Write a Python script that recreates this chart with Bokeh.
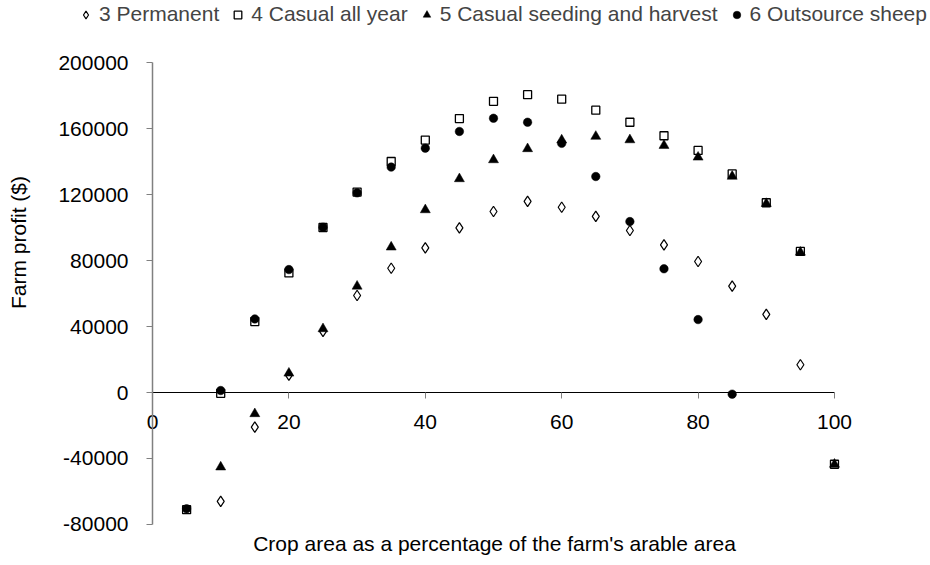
from math import pi
from bokeh.plotting import figure
from bokeh.models import (Range1d, FixedTicker, PrintfTickFormatter, Label, Legend,
                          LegendItem)
from bokeh.embed import file_html
from bokeh.resources import INLINE

# ---- data ----
x_perm = [10, 15, 20, 25, 30, 35, 40, 45, 50, 55, 60, 65, 70, 75, 80, 85, 90, 95]
y_perm = [-66000, -21000, 10500, 37000, 58800, 75300, 87700, 99800, 109700, 115800,
          112300, 106700, 98200, 89500, 79400, 64500, 47300, 16800]

x_casual = [5, 10, 15, 20, 25, 30, 35, 40, 45, 50, 55, 60, 65, 70, 75, 80, 85, 90, 95, 100]
y_casual = [-71000, -500, 43000, 72500, 100000, 121500, 140000, 153000, 166000, 176500,
            180500, 177800, 171100, 163800, 155600, 146700, 132500, 115000, 85500, -43500]

x_seed = [10, 15, 20, 25, 30, 35, 40, 45, 50, 55, 60, 65, 70, 75, 80, 85, 90, 95, 100]
y_seed = [-45200, -12900, 11700, 38600, 64400, 88100, 110700, 129500, 141000, 147700,
          153000, 155200, 153100, 149700, 142600, 131000, 114500, 85000, -43500]

x_sheep = [5, 10, 15, 20, 25, 30, 35, 40, 45, 50, 55, 60, 65, 70, 75, 80, 85]
y_sheep = [-70500, 1200, 44600, 74500, 100200, 121000, 136600, 148100, 158200, 166200,
           163800, 151000, 130900, 103600, 75000, 44200, -1000]

series_names = ["3 Permanent", "4 Casual all year", "5 Casual seeding and harvest",
                "6 Outsource sheep"]
x_ticks = [0, 20, 40, 60, 80, 100]
y_ticks = [-80000, -40000, 0, 40000, 80000, 120000, 160000, 200000]
x_title = "Crop area as a percentage of the farm's arable area"
y_title = "Farm profit ($)"

FONT = "Liberation Sans"
W, H = 930, 565

# frame fills the whole canvas; axes sit at fixed data positions
p = figure(width=W, height=H,
           x_range=Range1d(-22.29, 114.08), y_range=Range1d(-104850, 237580),
           output_backend="svg", toolbar_location=None,
           min_border_left=0, min_border_right=0, min_border_top=0, min_border_bottom=0)
p.xgrid.visible = False
p.ygrid.visible = False
p.outline_line_color = None
p.background_fill_color = "white"

xa = p.xaxis[0]
xa.fixed_location = 0
xa.bounds = (0, 100)
xa.ticker = FixedTicker(ticks=x_ticks)
xa.axis_line_color = "black"
xa.axis_line_width = 1.2
xa.major_tick_in = 0
xa.major_tick_out = 6
xa.major_tick_line_color = "#808080"
xa.minor_tick_line_color = None
xa.major_label_standoff = 16
xa.major_label_text_font = FONT
xa.major_label_text_font_size = "21px"
xa.major_label_text_color = "black"

ya = p.yaxis[0]
ya.fixed_location = 0
ya.bounds = (-80000, 200000)
ya.ticker = FixedTicker(ticks=y_ticks)
ya.formatter = PrintfTickFormatter(format="%d")
ya.axis_line_color = "#808080"
ya.axis_line_width = 1.5
ya.major_tick_in = 0
ya.major_tick_out = 6
ya.major_tick_line_color = "#808080"
ya.minor_tick_line_color = None
ya.major_label_standoff = 18
ya.major_label_text_font = FONT
ya.major_label_text_font_size = "21px"
ya.major_label_text_color = "black"

p.add_layout(Label(x=18, y=H - 242, x_units="screen", y_units="screen", text=y_title,
                   angle=pi / 2, text_align="center", text_baseline="middle",
                   text_font=FONT, text_font_size="21px", text_color="black"))
p.add_layout(Label(x=494, y=H - 543, x_units="screen", y_units="screen", text=x_title,
                   text_align="center", text_baseline="middle",
                   text_font=FONT, text_font_size="21px", text_color="black"))

r_perm = p.scatter(x_perm, y_perm, marker="diamond", size=10.5,
                   fill_color="white", line_color="black", line_width=1.2)
r_casual = p.scatter(x_casual, y_casual, marker="square", size=8, fill_color="white",
                     line_color="black", line_width=1.3)
r_seed = p.scatter(x_seed, y_seed, marker="triangle", size=10, fill_color="black",
                   line_color="black", line_width=0.5)
r_sheep = p.scatter(x_sheep, y_sheep, marker="circle", size=8.5, fill_color="black",
                    line_color="black", line_width=0.5)

legend = Legend(items=[LegendItem(label=series_names[0], renderers=[r_perm]),
                       LegendItem(label=series_names[1], renderers=[r_casual]),
                       LegendItem(label=series_names[2], renderers=[r_seed]),
                       LegendItem(label=series_names[3], renderers=[r_sheep])],
                orientation="horizontal", location=(76, 539),
                border_line_color=None, background_fill_alpha=0,
                padding=0, margin=0, spacing=9,
                glyph_width=19, glyph_height=19, label_standoff=4,
                label_text_font=FONT, label_text_font_size="21px", label_height=18)
p.add_layout(legend, "center")

with open("out.html", "w") as f:
    f.write(file_html(p, INLINE))
